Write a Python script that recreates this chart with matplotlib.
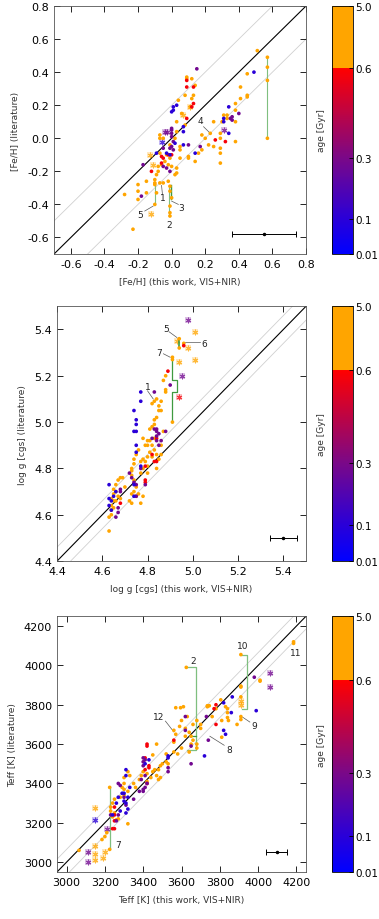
import numpy as np
import matplotlib
matplotlib.use("Agg")
import matplotlib.pyplot as plt
from matplotlib.colors import LinearSegmentedColormap, Normalize
from matplotlib.cm import ScalarMappable

plt.rcParams["font.family"] = ["DejaVu Sans"]
plt.rcParams["axes.unicode_minus"] = False

# age of each colour class [Gyr]
age_orange, age_red, age_purple, age_blue = 5.0, 0.58, 0.28, 0.1

# colour bar ticks (non-linear palette)
cb_ticks = [0.01, 0.1, 0.3, 0.6, 5.0]
cb_labels = ["0.01", "0.1", "0.3", "0.6", "5.0"]
cb_pos = [0.0, 0.141, 0.386, 0.75, 1.0]

# ---------------- [Fe/H] ----------------
feh_orange = [(0.51, 0.53), (0.45, 0.39), (0.41, 0.31), (0.45, 0.26), (0.45, 0.25), (0.41, 0.24),
              (0.38, 0.21), (0.38, 0.17), (0.33, 0.14), (0.31, 0.14), (0.30, 0.10), (0.38, -0.02),
              (0.29, 0.03), (0.29, 0.0), (0.29, -0.06), (0.29, -0.09), (0.29, -0.15), (0.25, 0.10),
              (0.23, 0.03), (0.22, -0.04), (0.25, -0.05), (0.16, -0.09), (0.18, -0.07), (0.18, 0.02),
              (0.10, -0.12), (0.10, -0.11), (0.14, -0.14), (0.05, -0.12), (0.05, -0.05), (0.05, -0.07),
              (0.08, 0.08), (0.03, 0.10), (0.04, 0.23), (0.08, 0.26), (0.09, 0.37), (0.09, 0.36),
              (0.12, 0.36), (0.14, 0.32), (0.13, 0.26), (0.12, 0.24), (0.11, 0.19), (0.06, 0.15),
              (0.03, 0.04), (0.02, 0.0), (-0.01, -0.04), (-0.07, 0.02), (-0.05, 0.0), (-0.07, 0.0),
              (-0.07, -0.09), (-0.03, -0.10), (-0.04, -0.14), (-0.02, -0.16), (-0.01, -0.12),
              (0.0, -0.17), (0.03, -0.18), (0.02, -0.22), (0.03, -0.21), (-0.06, -0.16),
              (-0.08, -0.17), (-0.08, -0.20), (-0.09, -0.22), (-0.10, -0.25), (-0.10, -0.27),
              (-0.07, -0.27), (-0.05, -0.27), (-0.09, -0.33), (-0.15, -0.26), (-0.15, -0.33),
              (-0.20, -0.28), (-0.20, -0.32), (-0.20, -0.37), (-0.28, -0.34), (-0.23, -0.55),
              (-0.02, -0.26), (-0.01, -0.29), (0.0, -0.36), (-0.01, -0.32), (-0.01, -0.41),
              (-0.01, -0.45), (-0.01, -0.47), (-0.10, -0.40), (-0.10, -0.28), (0.57, 0.49),
              (0.57, 0.43), (0.57, 0.35), (0.57, 0.0), (0.38, 0.10), (0.33, 0.12), (0.20, 0.0)]
feh_red = [(0.09, 0.35), (0.09, 0.31), (0.13, 0.31), (0.13, 0.21), (0.12, 0.19), (0.09, 0.12),
           (0.26, -0.01), (0.32, -0.02), (0.00, -0.10), (-0.02, -0.10), (-0.06, -0.11),
           (-0.06, -0.15), (-0.12, -0.20), (-0.05, -0.12)]
feh_purple = [(0.15, 0.42), (0.40, 0.15), (0.36, 0.13), (0.35, 0.12), (0.36, 0.11), (0.17, -0.05),
              (0.10, -0.04), (0.0, 0.06), (0.0, 0.05), (0.0, 0.03), (0.0, 0.01), (0.01, -0.02),
              (0.0, -0.05), (0.01, -0.07), (-0.01, -0.06), (-0.05, -0.06), (-0.03, -0.18),
              (-0.01, -0.20), (-0.17, -0.16), (-0.18, -0.35), (-0.05, -0.17)]
feh_blue = [(0.49, 0.40), (0.34, 0.19), (0.31, 0.12), (0.31, 0.10), (0.34, 0.03), (0.14, -0.09),
            (0.07, 0.07), (0.07, 0.04), (0.07, -0.04), (0.03, 0.20), (0.01, 0.19), (0.01, 0.17),
            (0.0, 0.16), (-0.03, -0.09), (-0.01, -0.10), (-0.09, -0.09), (0.02, -0.03)]
feh_star_orange = [(0.07, 0.14), (0.11, 0.19), (-0.13, -0.10), (-0.11, -0.16), (-0.12, -0.46)]
feh_star_purple = [(-0.04, 0.04), (-0.03, 0.04), (0.31, 0.05)]
feh_star_blue = [(-0.06, -0.02)]

# ---------------- log g ----------------
logg_orange = [(4.63, 4.53), (4.63, 4.59), (4.64, 4.60), (4.64, 4.62), (4.65, 4.63), (4.64, 4.64),
               (4.65, 4.66), (4.64, 4.67), (4.65, 4.69), (4.66, 4.70), (4.65, 4.71), (4.66, 4.73),
               (4.67, 4.75), (4.68, 4.76), (4.69, 4.76), (4.66, 4.66), (4.67, 4.68), (4.68, 4.67),
               (4.70, 4.72), (4.72, 4.66), (4.73, 4.65), (4.73, 4.69), (4.74, 4.70), (4.75, 4.68),
               (4.76, 4.69), (4.75, 4.72), (4.74, 4.75), (4.73, 4.77), (4.73, 4.79), (4.73, 4.80),
               (4.74, 4.82), (4.74, 4.84), (4.75, 4.86), (4.76, 4.88), (4.77, 4.83), (4.78, 4.84),
               (4.79, 4.83), (4.78, 4.80), (4.77, 4.78), (4.77, 4.65), (4.78, 4.68), (4.80, 4.78),
               (4.80, 4.81), (4.80, 4.85), (4.81, 4.87), (4.80, 4.90), (4.82, 4.90), (4.81, 4.92),
               (4.83, 4.93), (4.81, 4.97), (4.82, 4.98), (4.83, 4.99), (4.83, 5.01), (4.84, 5.02),
               (4.85, 5.05), (4.86, 5.05), (4.85, 5.07), (4.86, 5.09), (4.84, 5.10), (4.83, 5.09),
               (4.82, 5.08), (4.88, 5.13), (4.88, 5.14), (4.87, 5.18), (4.88, 5.20), (4.82, 4.85),
               (4.83, 4.88), (4.84, 4.86), (4.85, 4.84), (4.86, 4.86), (4.84, 4.80), (4.86, 4.90),
               (4.87, 4.96), (4.91, 5.00), (4.91, 5.27), (4.91, 5.28), (4.94, 5.36), (4.94, 5.32),
               (4.96, 5.34), (4.80, 4.92), (4.79, 4.90), (4.78, 4.93)]
logg_red = [(4.68, 4.65), (4.79, 4.74), (4.79, 4.75), (4.79, 4.81), (4.83, 4.83), (4.84, 4.83),
            (4.82, 4.86), (4.89, 5.22), (4.96, 5.33), (4.84, 4.93)]
logg_purple = [(4.72, 4.78), (4.73, 4.76), (4.74, 4.74), (4.75, 4.73), (4.77, 4.80), (4.66, 4.59),
               (4.67, 4.61), (4.67, 4.63), (4.68, 4.70), (4.68, 4.71), (4.84, 4.96), (4.84, 4.97),
               (4.85, 4.95), (4.84, 4.92), (4.84, 4.94), (4.85, 4.90), (4.86, 4.92), (4.83, 4.97),
               (4.88, 4.96), (4.82, 4.93), (4.83, 5.13), (4.90, 5.16), (4.79, 4.73), (4.75, 4.68)]
logg_blue = [(4.63, 4.73), (4.63, 4.67), (4.64, 4.66), (4.63, 4.64), (4.66, 4.70), (4.65, 4.68),
             (4.74, 4.73), (4.75, 4.87), (4.75, 4.90), (4.77, 4.81), (4.74, 4.96), (4.75, 4.96),
             (4.75, 4.99), (4.75, 5.01), (4.74, 5.05), (4.77, 5.09), (4.77, 5.13), (4.74, 4.68),
             (4.64, 4.62)]
logg_star_orange = [(4.93, 5.35), (5.01, 5.39), (4.98, 5.32), (5.01, 5.27), (4.94, 5.26)]
logg_star_purple = [(4.98, 5.44), (4.95, 5.20)]
logg_star_red = [(4.94, 5.11)]

# ---------------- Teff ----------------
teff_orange = [(4185, 4120), (4185, 4112), (3910, 4055), (3910, 3895), (3910, 3890), (4010, 3925),
               (4010, 3920), (3910, 3840), (3910, 3740), (3910, 3725), (3890, 3700), (3840, 3760),
               (3840, 3735), (3845, 3720), (3830, 3790), (3805, 3825), (3810, 3720), (3810, 3635),
               (3780, 3780), (3745, 3795), (3735, 3795), (3735, 3790), (3700, 3700), (3680, 3720),
               (3625, 3990), (3570, 3785), (3595, 3785), (3610, 3790), (3630, 3740), (3600, 3720),
               (3660, 3700), (3570, 3650), (3560, 3670), (3590, 3690), (3620, 3680), (3640, 3660),
               (3650, 3640), (3620, 3640), (3660, 3620), (3650, 3600), (3680, 3580), (3640, 3560),
               (3680, 3600), (3600, 3580), (3560, 3560), (3530, 3500), (3520, 3510), (3500, 3500),
               (3490, 3490), (3480, 3470), (3460, 3470), (3470, 3440), (3480, 3420), (3490, 3430),
               (3450, 3460), (3440, 3430), (3420, 3450), (3400, 3460), (3390, 3440), (3420, 3410),
               (3380, 3420), (3360, 3380), (3350, 3400), (3330, 3440), (3320, 3460), (3300, 3430),
               (3300, 3400), (3290, 3380), (3300, 3370), (3320, 3360), (3300, 3340), (3280, 3330),
               (3250, 3320), (3240, 3300), (3230, 3280), (3230, 3260), (3250, 3250), (3240, 3230),
               (3260, 3215), (3270, 3220), (3320, 3195), (3225, 3380), (3225, 3065), (3210, 3150),
               (3200, 3130), (3185, 3115), (3065, 3060), (3470, 3600), (3450, 3545), (3520, 3550),
               (3560, 3610), (3580, 3550), (3700, 3680), (3760, 3740), (3840, 3780)]
teff_red = [(3780, 3800), (3770, 3780), (3780, 3700), (3560, 3620), (3420, 3600), (3420, 3590),
            (3410, 3530), (3430, 3490), (3430, 3480), (3420, 3400), (3410, 3470), (3250, 3280),
            (3240, 3170), (3250, 3170), (3250, 3240), (3250, 3210)]
teff_purple = [(3980, 3940), (3730, 3740), (3740, 3620), (3650, 3500), (3620, 3670), (3620, 3740),
               (3650, 3590), (3530, 3480), (3530, 3460), (3270, 3400), (3280, 3390), (3270, 3240),
               (3260, 3210), (3400, 3530), (3410, 3520), (3400, 3510), (3400, 3490), (3410, 3440),
               (3420, 3400), (3410, 3380), (3400, 3360), (3400, 3370), (3380, 3360), (3390, 3420),
               (3350, 3320), (3300, 3330), (3310, 3290), (3230, 3240)]
teff_blue = [(3720, 3540), (3820, 3810), (3865, 3840), (3860, 3760), (3830, 3650), (3820, 3670),
             (3990, 3770), (3530, 3540), (3530, 3530), (3430, 3520), (3410, 3500), (3310, 3470),
             (3310, 3440), (3300, 3350), (3290, 3350), (3270, 3330), (3320, 3330), (3320, 3270),
             (3310, 3250), (3260, 3300), (3280, 3260), (3240, 3240), (3330, 3380), (3300, 3310),
             (3310, 3300)]
teff_star_orange = [(3150, 3275), (3150, 3080), (3150, 3040), (3150, 3010), (3190, 3020),
                    (3200, 3050), (3910, 3820), (3910, 3800)]
teff_star_purple = [(3110, 3050), (3110, 3000), (3210, 3170), (4060, 3960), (4060, 3890)]
teff_star_blue = [(3150, 3215)]

cmap = LinearSegmentedColormap.from_list(
    "age", [(0.0, "#0000ff"), (0.141, "#2a00d8"), (0.386, "#7a0888"),
            (0.749, "#ff0000"), (0.75, "#ffa500"), (1.0, "#ffa500")])
norm = Normalize(0, 1)


def age_pos(age):
    return np.interp(age, cb_ticks, cb_pos)


fig = plt.figure(figsize=(3.79, 9.2), dpi=100)

panels = [
    dict(lim=(-0.7, 0.8), ticks=np.arange(-0.6, 0.81, 0.2), fmt="%.1f", band=0.2,
         xlabel="[Fe/H] (this work, VIS+NIR)", ylabel="[Fe/H] (literature)",
         groups=[(feh_orange, age_orange), (feh_red, age_red), (feh_purple, age_purple), (feh_blue, age_blue)],
         stars=[(feh_star_orange, age_orange), (feh_star_purple, age_purple), (feh_star_blue, age_blue)],
         err=(0.55, -0.58, 0.19),
         rect=[0.1425, 0.7228, 0.665, 0.2696]),
    dict(lim=(4.4, 5.5), ticks=np.arange(4.4, 5.41, 0.2), fmt="%.1f", band=0.06,
         xlabel="log g [cgs] (this work, VIS+NIR)", ylabel="log g [cgs] (literature)",
         groups=[(logg_orange, age_orange), (logg_red, age_red), (logg_purple, age_purple), (logg_blue, age_blue)],
         stars=[(logg_star_orange, age_orange), (logg_star_purple, age_purple), (logg_star_red, age_red)],
         err=(5.40, 4.50, 0.06),
         rect=[0.1504, 0.389, 0.657, 0.277]),
    dict(lim=(2950, 4250), ticks=np.arange(3000, 4201, 200), fmt="%d", band=65,
         xlabel="Teff [K] (this work, VIS+NIR)", ylabel="Teff [K] (literature)",
         groups=[(teff_orange, age_orange), (teff_red, age_red), (teff_purple, age_purple), (teff_blue, age_blue)],
         stars=[(teff_star_orange, age_orange), (teff_star_purple, age_purple), (teff_star_blue, age_blue)],
         err=(4098, 3050, 55),
         rect=[0.1504, 0.0511, 0.657, 0.278]),
]

axes = []
for p in panels:
    ax = fig.add_axes(p["rect"])
    lo, hi = p["lim"]
    ax.set_xlim(lo, hi)
    ax.set_ylim(lo, hi)
    ax.plot([lo, hi], [lo, hi], color="black", lw=0.8, zorder=1)
    ax.plot([lo, hi], [lo + p["band"], hi + p["band"]], color="#d0d0d0", lw=0.6, zorder=1)
    ax.plot([lo, hi], [lo - p["band"], hi - p["band"]], color="#d0d0d0", lw=0.6, zorder=1)

    for pts, age in p["stars"]:
        xs, ys = zip(*pts)
        col = cmap(norm(age_pos(age)))
        ax.scatter(xs, ys, s=14, marker="s", color=col, alpha=0.25, lw=0, zorder=2)
        ax.scatter(xs, ys, s=14, marker=(6, 2, 0), color=col, alpha=0.7, lw=0.6, zorder=2)
    for pts, age in p["groups"]:
        xs, ys = zip(*pts)
        ax.scatter(xs, ys, s=7, c=age_pos(np.full(len(xs), age)), cmap=cmap, norm=norm,
                   lw=0, zorder=3)

    ex, ey, exe = p["err"]
    ax.errorbar(ex, ey, xerr=exe, fmt="o", ms=1.5, color="black", lw=0.7,
                capsize=2, capthick=0.7, zorder=4)

    ax.set_xticks(p["ticks"])
    ax.set_yticks(p["ticks"])
    ax.set_xticklabels([p["fmt"] % t for t in p["ticks"]])
    ax.set_yticklabels([p["fmt"] % t for t in p["ticks"]])
    ax.tick_params(direction="in", top=True, right=True, length=4, width=0.6,
                   labelsize=8, colors="black")
    ax.set_xlabel(p["xlabel"], fontsize=6.5, color="#333333", labelpad=6)
    ax.set_ylabel(p["ylabel"], fontsize=6.5, color="#333333", labelpad=5)
    for s in ax.spines.values():
        s.set_linewidth(0.6)
        s.set_color("#555555")

    cax = fig.add_axes([0.876, p["rect"][1], 0.0554, p["rect"][3]])
    cb = fig.colorbar(ScalarMappable(norm=norm, cmap=cmap), cax=cax, ticks=cb_pos)
    cb.set_ticklabels(cb_labels)
    cb.outline.set_linewidth(0.6)
    cax.tick_params(labelsize=7.5, length=3, width=0.6, direction="in", pad=1.5)
    cax.yaxis.set_label_position("left")
    cax.set_ylabel("age [Gyr]", fontsize=6.5, color="#333333", labelpad=4)
    axes.append(ax)

green = "#3f9a3f"
leader = "#555555"

# [Fe/H] annotations
ax = axes[0]
ax.plot([0.57, 0.57], [0.0, 0.49], color="#7fbf7f", lw=0.8, zorder=2)
ax.plot([-0.10, -0.10], [-0.27, -0.40], color="#7fbf7f", lw=0.8, zorder=2)
ax.plot([-0.015, -0.015], [-0.30, -0.47], color="#7fbf7f", lw=0.8, zorder=2)
ax.plot([-0.005, -0.005], [-0.28, -0.37], color=green, lw=1.0, zorder=2)
for txt, tx, ty, x1, y1, x2, y2 in [("1", -0.05, -0.36, -0.055, -0.335, -0.06, -0.285),
                                    ("2", -0.016, -0.52, None, None, None, None),
                                    ("3", 0.056, -0.42, 0.04, -0.40, 0.0, -0.38),
                                    ("4", 0.173, 0.11, 0.19, 0.07, 0.225, 0.035),
                                    ("5", -0.186, -0.46, -0.16, -0.44, -0.11, -0.41)]:
    ax.text(tx, ty, txt, fontsize=6.5, ha="center", va="center", color="#222222")
    if x1 is not None:
        ax.plot([x1, x2], [y1, y2], color=leader, lw=0.5)

# log g annotations
ax = axes[1]
ax.plot([4.91, 4.91, 4.93, 4.93, 4.91, 4.91], [5.28, 5.18, 5.18, 5.13, 5.13, 5.00],
        color=green, lw=0.9, zorder=2)
ax.plot([4.94, 4.94], [5.32, 5.36], color=green, lw=1.2, zorder=2)
for txt, tx, ty, x1, y1, x2, y2 in [("5", 4.88, 5.405, 4.895, 5.39, 4.93, 5.365),
                                    ("6", 5.05, 5.34, 5.03, 5.345, 4.965, 5.345),
                                    ("7", 4.85, 5.30, 4.87, 5.295, 4.9, 5.28),
                                    ("1", 4.80, 5.155, 4.80, 5.135, 4.825, 5.1)]:
    ax.text(tx, ty, txt, fontsize=6.5, ha="center", va="center", color="#222222")
    ax.plot([x1, x2], [y1, y2], color=leader, lw=0.5)

# Teff annotations
ax = axes[2]
ax.plot([3630, 3675, 3675, 3630], [3990, 3990, 3568, 3568], color="#7fbf7f", lw=0.9, zorder=2)
ax.plot([3640, 3675], [3643, 3643], color=green, lw=0.9, zorder=2)
ax.plot([3915, 3940, 3940, 3915], [4055, 4055, 3780, 3780], color="#7fbf7f", lw=0.9, zorder=2)
ax.plot([3228, 3228], [3065, 3380], color="#7fbf7f", lw=0.9, zorder=2)
for txt, tx, ty, x1, y1, x2, y2 in [("2", 3661, 4027, None, None, None, None),
                                    ("10", 3917, 4100, None, None, None, None),
                                    ("11", 4197, 4067, None, None, None, None),
                                    ("12", 3483, 3742, 3516, 3717, 3560, 3662),
                                    ("8", 3849, 3572, 3823, 3594, 3748, 3640),
                                    ("9", 3980, 3695, 3957, 3712, 3919, 3737),
                                    ("7", 3269, 3089, None, None, None, None)]:
    ax.text(tx, ty, txt, fontsize=6.5, ha="center", va="center", color="#222222")
    if x1 is not None:
        ax.plot([x1, x2], [y1, y2], color=leader, lw=0.5)

fig.savefig("out.png", dpi=100)
